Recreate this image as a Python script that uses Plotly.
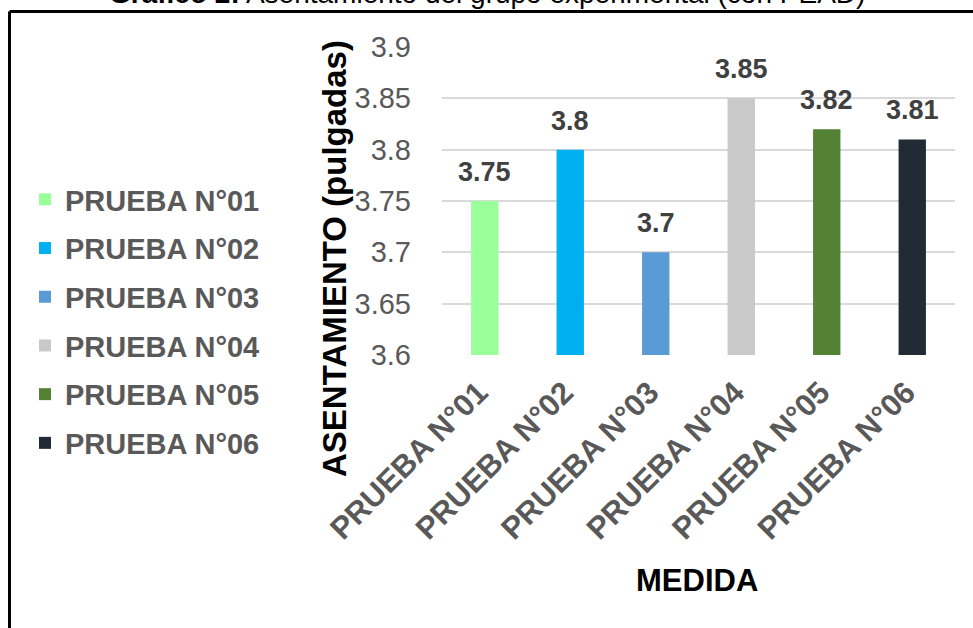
import plotly.graph_objects as go

categories = ["PRUEBA N°01", "PRUEBA N°02", "PRUEBA N°03", "PRUEBA N°04", "PRUEBA N°05", "PRUEBA N°06"]
values = [3.75, 3.80, 3.70, 3.85, 3.82, 3.81]
colors = ["#99FF99", "#00B0F0", "#5B9BD5", "#C9C9C9", "#548235", "#222A35"]
y_ticks = [3.6, 3.65, 3.7, 3.75, 3.8, 3.85, 3.9]
y_tick_labels = [f"{v:g}" for v in y_ticks]

title_html = "<b>Gráfico 2:</b> Asentamiento del grupo experimental (con PEAD)"
y_title = "ASENTAMIENTO (pulgadas)"
x_title = "MEDIDA"

FONT = "Liberation Sans, Arial, sans-serif"

fig = go.Figure()
for i, (cat, val, col) in enumerate(zip(categories, values, colors)):
    fig.add_trace(go.Bar(
        x=[cat], y=[val], name=cat, marker=dict(color=col, line=dict(width=0)),
        width=0.32, legendgroup=f"g{i}", showlegend=True, hoverinfo="x+y",
    ))

annotations = []
for cat, val in zip(categories, values):
    annotations.append(dict(
        x=cat, y=val, xref="x", yref="y", text=f"<b>{val:g}</b>", showarrow=False,
        yanchor="bottom", yshift=12, font=dict(family=FONT, size=27, color="#404040"),
    ))

# title (partly cut at top)
annotations.append(dict(
    x=(487 - 442) / 513, y=(355 - (-7)) / 308, xref="paper", yref="paper",
    text=title_html, showarrow=False, xanchor="center", yanchor="middle",
    font=dict(family=FONT, size=28, color="#000000"),
))
# y title
annotations.append(dict(
    x=(334 - 442) / 513, y=(355 - 259) / 308, xref="paper", yref="paper",
    text=f"<b>{y_title}</b>", showarrow=False, textangle=-90,
    xanchor="center", yanchor="middle",
    font=dict(family=FONT, size=33, color="#000000"),
))
# x title
annotations.append(dict(
    x=(697 - 442) / 513, y=(355 - 580) / 308, xref="paper", yref="paper",
    text=f"<b>{x_title}</b>", showarrow=False,
    xanchor="center", yanchor="middle",
    font=dict(family=FONT, size=31, color="#000000"),
))

shapes = [
    dict(type="line", xref="paper", yref="paper",
         x0=(9.5 - 442) / 513, x1=(990 - 442) / 513,
         y0=(355 - 11.5) / 308, y1=(355 - 11.5) / 308,
         line=dict(color="#000000", width=3)),
    dict(type="line", xref="paper", yref="paper",
         x0=(9.5 - 442) / 513, x1=(9.5 - 442) / 513,
         y0=(355 - 11.5) / 308, y1=(355 - 650) / 308,
         line=dict(color="#000000", width=3)),
]

fig.update_layout(
    width=973, height=628,
    margin=dict(l=442, r=18, t=47, b=273, autoexpand=False),
    paper_bgcolor="white", plot_bgcolor="white",
    barmode="overlay",
    font=dict(family=FONT, color="#595959"),
    showlegend=True,
    legend=dict(
        x=(25 - 442) / 513, y=(355 - 174) / 308, xanchor="left", yanchor="top",
        xref="paper", yref="paper", maxheight=600,
        font=dict(family=FONT, size=29, color="#595959", weight="bold"),
        tracegroupgap=8, itemwidth=30, bgcolor="rgba(0,0,0,0)",
    ),
    xaxis=dict(
        type="category", categoryorder="array", categoryarray=categories,
        tickangle=-45, showgrid=False, ticks="", showline=False,
        ticklabelstandoff=12, ticklabelshift=-6,
        tickfont=dict(family=FONT, size=31, color="#595959", weight="bold"),
    ),
    yaxis=dict(
        range=[3.6, 3.9], tickvals=y_ticks, ticktext=y_tick_labels,
        showgrid=True, gridcolor="#D9D9D9", gridwidth=1.5,
        zeroline=False, showline=False, ticks="",
        ticklabelstandoff=30,
        tickfont=dict(family=FONT, size=29, color="#595959"),
    ),
    annotations=annotations,
    shapes=shapes,
)

fig.write_html("out.html")
